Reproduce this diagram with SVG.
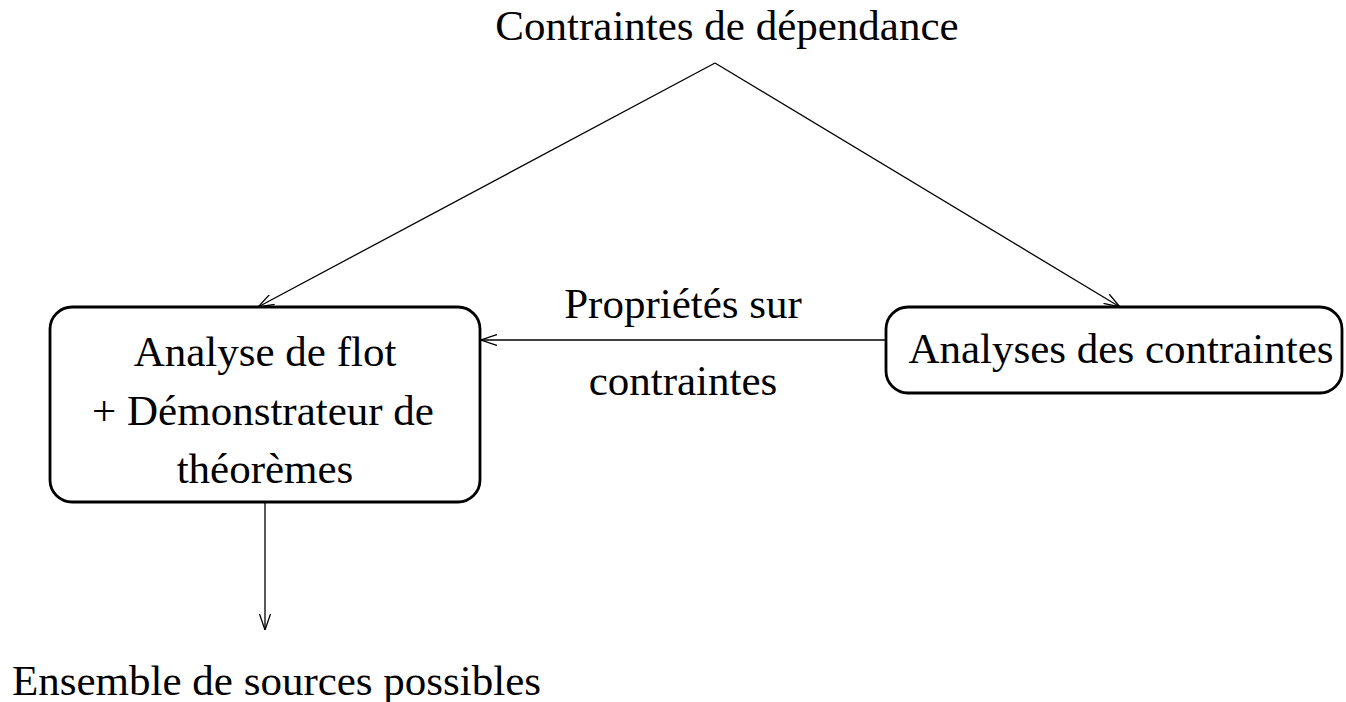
<svg xmlns="http://www.w3.org/2000/svg" width="1346" height="702" viewBox="0 0 1346 702">
<style>
text{font-family:"Liberation Serif","Times New Roman",serif;font-size:43px;fill:#000;text-anchor:middle}
.box{fill:#fff;stroke:#000;stroke-width:2.8}
.edge{fill:none;stroke:#000;stroke-width:1.3}
</style>
<defs>
<marker id="arr" viewBox="0 0 16 12" refX="16" refY="6" markerWidth="16" markerHeight="12" markerUnits="userSpaceOnUse" orient="auto">
<path d="M0,0.5 L16,6 L0,11.5" fill="none" stroke="#000" stroke-width="1.3"/>
</marker>
</defs>
<g id="connectors">
<path class="edge" d="M715,63 L258,307" marker-end="url(#arr)"/>
<path class="edge" d="M715,63 L1120,307" marker-end="url(#arr)"/>
<path class="edge" d="M885,340 L481,340" marker-end="url(#arr)"/>
<path class="edge" d="M265,502 L265,630" marker-end="url(#arr)"/>
</g>
<g id="top"><text x="727" y="40">Contraintes de dépendance</text></g>
<g id="flow">
<rect class="box" x="50" y="307" width="430" height="195" rx="22"/>
<text x="265" y="366">Analyse de flot</text>
<text x="263" y="425">+ Démonstrateur de</text>
<text x="265" y="483">théorèmes</text>
</g>
<g id="analyses">
<rect class="box" x="886" y="307" width="456" height="86" rx="22"/>
<text x="1121" y="363">Analyses des contraintes</text>
</g>
<g id="label"><text x="683" y="318">Propriétés sur</text><text x="683" y="395">contraintes</text></g>
<g id="bottom"><text x="12" y="695" style="text-anchor:start">Ensemble de sources possibles</text></g>
</svg>
